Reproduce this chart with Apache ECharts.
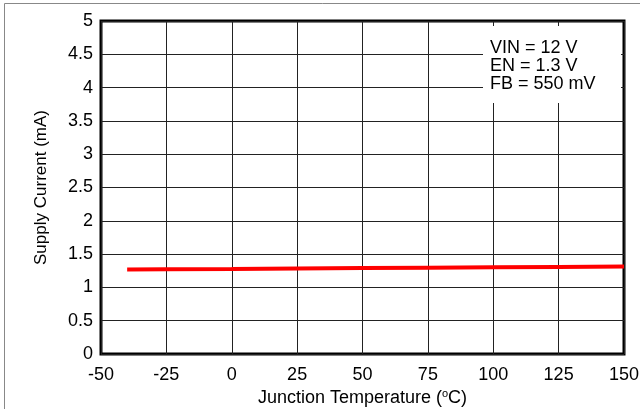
<!DOCTYPE html>
<html>
<head>
<meta charset="utf-8">
<script src="https://cdn.jsdelivr.net/npm/echarts@6/dist/echarts.min.js"></script>
<style>html,body{margin:0;padding:0;background:#fff}#c{width:640px;height:409px}</style>
</head>
<body>
<div id="c"></div>
<script>
var temps = [-40, -25, 0, 25, 50, 75, 100, 125, 150];
var supplyCurrent = [1.27, 1.273, 1.278, 1.284, 1.29, 1.296, 1.302, 1.308, 1.315];
var xTicks = [-50, -25, 0, 25, 50, 75, 100, 125, 150];
var yTicks = [0, 0.5, 1, 1.5, 2, 2.5, 3, 3.5, 4, 4.5, 5];
var noteLines = ['VIN = 12 V', 'EN = 1.3 V', 'FB = 550 mV'];

var chart = echarts.init(document.getElementById('c'), null, {renderer: 'canvas'});
var font = 'Liberation Sans, Arial, sans-serif';
chart.setOption({
  animation: false,
  backgroundColor: '#fff',
  grid: {left: 101, right: 16, top: 21, bottom: 55, outerBoundsMode: 'none', containLabel: false, show: true, borderColor: '#000', borderWidth: 3, backgroundColor: 'transparent'},
  xAxis: {
    type: 'value', min: xTicks[0], max: xTicks[xTicks.length - 1], interval: 25,
    axisLine: {show: false}, axisTick: {show: false},
    splitLine: {show: true, lineStyle: {color: '#222', width: 1}},
    axisLabel: {color: '#000', fontSize: 18, fontFamily: font, margin: 12},
    name: '{a|Junction Temperature (}{s|o}{a|C)}', nameLocation: 'middle', nameGap: 27,
    nameTextStyle: {rich: {
      a: {fontSize: 18, fontFamily: font, color: '#000'},
      s: {fontSize: 11, fontFamily: font, color: '#000', verticalAlign: 'top', padding: [0, 0, 8, 0]}
    }}
  },
  yAxis: {
    type: 'value', min: yTicks[0], max: yTicks[yTicks.length - 1], interval: 0.5,
    axisLine: {show: false}, axisTick: {show: false},
    splitLine: {show: true, lineStyle: {color: '#222', width: 1}},
    axisLabel: {color: '#000', fontSize: 18, fontFamily: font, margin: 8},
    name: 'Supply Current (mA)', nameLocation: 'middle', nameGap: 51,
    nameTextStyle: {fontSize: 17, fontFamily: font, color: '#000'}
  },
  series: [{
    type: 'line', data: temps.map(function (t, i) { return [t, supplyCurrent[i]]; }),
    showSymbol: false, lineStyle: {color: '#ff0000', width: 4}, z: 5
  }],
  graphic: [
    {type: 'rect', shape: {x: 483, y: 26, width: 138, height: 77}, style: {fill: '#fff'}, z: 10},
    {type: 'text', left: 490, top: 39, z: 11, style: {text: noteLines.join('\n'), font: '18px ' + font, lineHeight: 18, fill: '#000'}},
    {type: 'line', shape: {x1: 4.5, y1: 3.5, x2: 640, y2: 3.5}, style: {stroke: '#888', lineWidth: 1}, z: 10},
    {type: 'line', shape: {x1: 4.5, y1: 3.5, x2: 4.5, y2: 409}, style: {stroke: '#888', lineWidth: 1}, z: 10}
  ]
});
</script>
</body>
</html>
